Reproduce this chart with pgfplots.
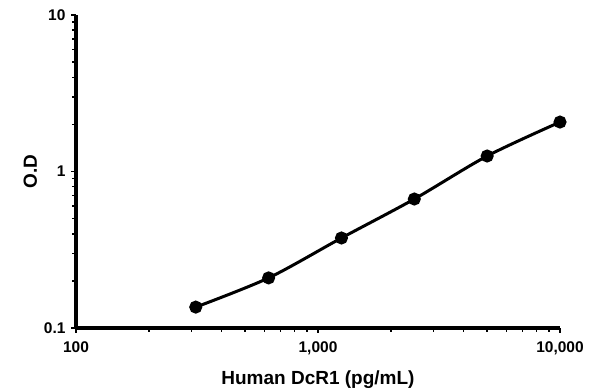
\documentclass[border=0pt]{standalone}
\usepackage{pgfplots}
\pgfplotsset{compat=1.18}
\usepackage{fontspec}
\setmainfont{Liberation Sans}
\begin{document}
\begin{tikzpicture}[x=1pt,y=1pt]
\path[use as bounding box] (-76,-63) rectangle (519,328);
\begin{axis}[
  at={(0,0)}, anchor=south west,
  scale only axis,
  width=484pt, height=313pt,
  xmode=log, ymode=log,
  xmin=100, xmax=10000, ymin=0.1, ymax=10,
  axis lines*=left,
  axis line style={line width=3.5pt},
  tick style={black, line width=1.5pt},
  major tick length=5pt, minor tick length=4pt,
  tick align=outside,
  xtick={100,1000,10000},
  xticklabels={\textbf{100},\textbf{1,000},\textbf{10,000}},
  ytick={0.1,1,10},
  yticklabels={\textbf{0.1},\textbf{1},\textbf{10}},
  ticklabel style={font=\fontsize{15.5}{17}\selectfont},
  xticklabel style={yshift=-5pt},
  yticklabel style={xshift=-2pt},
  xlabel={\textbf{Human DcR1 (pg/mL)}},
  ylabel={\textbf{O.D}},
  label style={font=\fontsize{19}{21}\selectfont},
  xlabel style={yshift=-9pt},
  ylabel style={yshift=0pt},
  clip=false,
]
\addplot[black, line width=3pt, smooth, mark=*, mark size=5pt]
  coordinates {(312.5,0.136) (625,0.209) (1250,0.376) (2500,0.667) (5000,1.256) (10000,2.07)};
\end{axis}
\end{tikzpicture}
\end{document}
